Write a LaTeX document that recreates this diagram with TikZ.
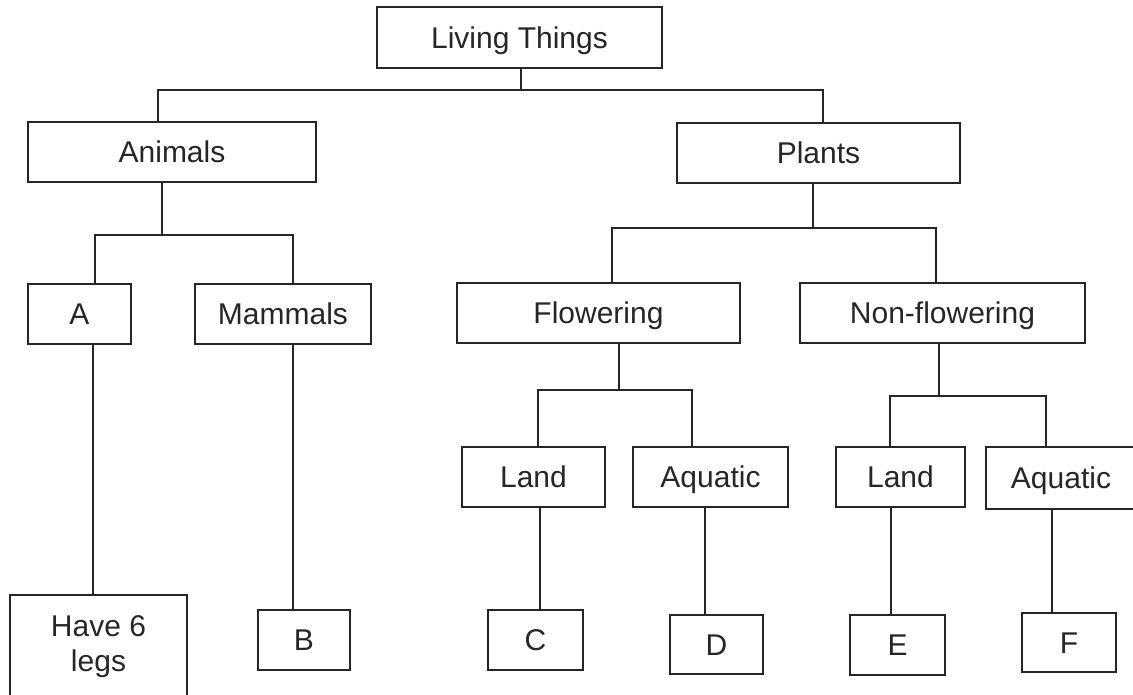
\documentclass[tikz,border=0pt]{standalone}
\usepackage{fontspec}
\setmainfont{Liberation Sans}
\tikzstyle{tallbox} = [rectangle, draw=black!85, line width=1.4pt, inner sep=0pt, text=black!85, align=center, font=\fontsize{30}{35}\selectfont]
\tikzstyle{box} = [tallbox, text height=21.5pt, text depth=0pt]
\tikzstyle{connector} = [draw=black!85, line width=1.4pt]

\begin{document}
\begin{tikzpicture}[x=1pt, y=-1pt]
    \useasboundingbox (0,0) rectangle (1133,695);
    \clip (0,0) rectangle (1133,695);

        % top levels
        \node (living) [box, minimum width=285, minimum height=61] at (519.5,37.5) {Living Things};
        \node (animals) [box, minimum width=288, minimum height=60] at (172,152) {Animals};
        \node (plants) [box, minimum width=283, minimum height=60] at (818.5,153) {Plants};

        \node (a) [box, minimum width=103, minimum height=60] at (79.5,314) {A};
        \node (mammals) [box, minimum width=176, minimum height=60] at (283,314) {Mammals};
        \node (flowering) [box, minimum width=283, minimum height=60] at (598.5,313) {Flowering};
        \node (nonflowering) [box, minimum width=285, minimum height=60] at (942.5,313) {Non-flowering};

        \node (land1) [box, minimum width=143, minimum height=60] at (533.5,477) {Land};
        \node (aquatic1) [box, minimum width=155, minimum height=60] at (710.5,477) {Aquatic};
        \node (land2) [box, minimum width=129, minimum height=60] at (900.5,477) {Land};
        \node (aquatic2) [box, minimum width=150, minimum height=62] at (1061,478) {Aquatic};

        % bottom row
        \node (legs) [tallbox, minimum width=177, minimum height=103] at (98.5,646.5) {Have 6\\legs};
        \node (b) [box, minimum width=92, minimum height=60] at (304,640) {B};
        \node (c) [box, minimum width=95, minimum height=60] at (535.5,640) {C};
        \node (d) [box, minimum width=93, minimum height=59] at (716.5,644.5) {D};
        \node (e) [box, minimum width=95, minimum height=60] at (897.5,645) {E};
        \node (f) [box, minimum width=94, minimum height=59] at (1069,642.5) {F};

        % junctions of the tree
        \coordinate (jtop) at (521,90);
        \coordinate (janimals) at (162,235);
        \coordinate (jplants) at (813,228);
        \coordinate (jflowering) at (619,390);
        \coordinate (jnonflowering) at (939,396);

        \draw [connector] (jtop |- living.south) -- (jtop);
        \draw [connector] ([xshift=-14pt]animals.north) |- (jtop) -| ([xshift=4.5pt]plants.north);

        \draw [connector] (janimals |- animals.south) -- (janimals);
        \draw [connector] ([xshift=15.5pt]a.north) |- (janimals) -| ([xshift=10pt]mammals.north);

        \draw [connector] (jplants |- plants.south) -- (jplants);
        \draw [connector] ([xshift=13.5pt]flowering.north) |- (jplants) -| ([xshift=-6.5pt]nonflowering.north);

        \draw [connector] (jflowering |- flowering.south) -- (jflowering);
        \draw [connector] ([xshift=4.5pt]land1.north) |- (jflowering) -| ([xshift=-18.5pt]aquatic1.north);

        \draw [connector] (jnonflowering |- nonflowering.south) -- (jnonflowering);
        \draw [connector] ([xshift=-10.5pt]land2.north) |- (jnonflowering) -| ([xshift=-15pt]aquatic2.north);

        \draw [connector] ([xshift=13.5pt]a.south) -- ([xshift=13.5pt]a.south |- legs.north);
        \draw [connector] ([xshift=10pt]mammals.south) -- ([xshift=10pt]mammals.south |- b.north);
        \draw [connector] ([xshift=6.5pt]land1.south) -- ([xshift=6.5pt]land1.south |- c.north);
        \draw [connector] ([xshift=-5.5pt]aquatic1.south) -- ([xshift=-5.5pt]aquatic1.south |- d.north);
        \draw [connector] ([xshift=-9.5pt]land2.south) -- ([xshift=-9.5pt]land2.south |- e.north);
        \draw [connector] ([xshift=-9pt]aquatic2.south) -- ([xshift=-9pt]aquatic2.south |- f.north);
\end{tikzpicture}
\end{document}
